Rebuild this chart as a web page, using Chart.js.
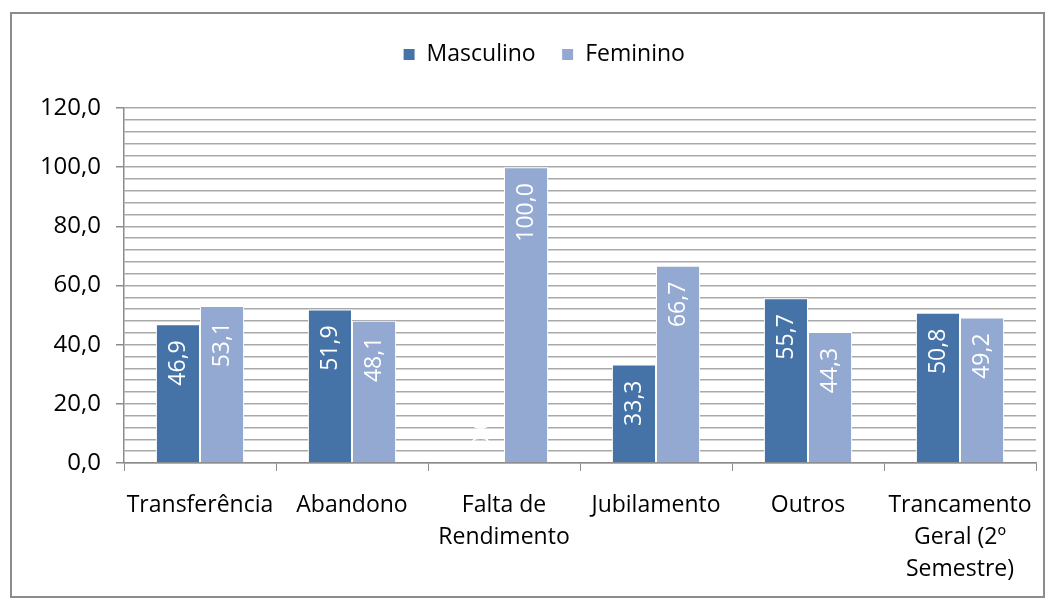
<!DOCTYPE html>
<html>
<head>
<meta charset="utf-8">
<script src="https://cdn.jsdelivr.net/npm/chart.js@4/dist/chart.umd.min.js"></script>
<style>
    html, body { margin: 0; padding: 0; background: #fff; }
    #frame {
        position: absolute; left: 10px; top: 12px;
        width: 1035px; height: 586px;
        border: 2px solid #8c8c8c;
        box-sizing: border-box;
    }
    #wrap { position: absolute; left: 0; top: 0; width: 1054px; height: 607px; }
</style>
</head>
<body>
<div id="frame"></div>
<div id="wrap"><canvas id="chart" width="1054" height="607"></canvas></div>
<script>
// 카테고리와 값
const categories = [
    'Transferência',
    'Abandono',
    ['Falta de', 'Rendimento'],
    'Jubilamento',
    'Outros',
    ['Trancamento', 'Geral (2º', 'Semestre)']
];
const masculino = [46.9, 51.9, 0.0, 33.3, 55.7, 50.8];
const feminino = [53.1, 48.1, 100.0, 66.7, 44.3, 49.2];
const yTicks = [0, 20, 40, 60, 80, 100, 120];

const FONT = '"Open Sans", "DejaVu Sans", sans-serif';

function fmt(v) {
    return v.toFixed(1).replace('.', ',');
}

// 막대 안쪽 세로 라벨
const barLabels = {
    id: 'barLabels',
    afterDatasetsDraw(chart) {
        const ctx = chart.ctx;
        ctx.save();
        ctx.fillStyle = '#ffffff';
        ctx.font = '23px ' + FONT;
        ctx.textBaseline = 'middle';
        chart.data.datasets.forEach((ds, di) => {
            chart.getDatasetMeta(di).data.forEach((bar, i) => {
                const text = fmt(ds.data[i]);
                const w = ctx.measureText(text).width;
                ctx.save();
                ctx.translate(bar.x, bar.y);
                ctx.rotate(-Math.PI / 2);
                if (bar.base - bar.y > w + 20) {
                    ctx.textAlign = 'right';
                    ctx.fillText(text, -16, 0);
                } else {
                    ctx.textAlign = 'left';
                    ctx.fillText(text, 14, 0);
                }
                ctx.restore();
            });
        });
        ctx.restore();
    }
};

// 범례 아래 여백 + 가로 위치 보정
const legendMargin = {
    id: 'legendMargin',
    beforeInit(chart) {
        const fit = chart.legend.fit;
        chart.legend.fit = function() {
            fit.bind(chart.legend)();
            this.height += 32;
        };
    },
    afterLayout(chart) {
        chart.legend.left += 26;
        chart.legend.right += 26;
    }
};

new Chart(document.getElementById('chart'), {
    type: 'bar',
    data: {
        labels: categories,
        datasets: [{
            label: 'Masculino',
            data: masculino,
            backgroundColor: '#4572A7',
            borderColor: '#ffffff',
            borderWidth: 1,
            categoryPercentage: 0.58,
            barPercentage: 1.0
        }, {
            label: 'Feminino',
            data: feminino,
            backgroundColor: '#94A9D1',
            borderColor: '#ffffff',
            borderWidth: 1,
            categoryPercentage: 0.58,
            barPercentage: 1.0
        }]
    },
    options: {
        responsive: false,
        animation: false,
        layout: {
            padding: { top: 17, right: 18, left: 0, bottom: 0 }
        },
        plugins: {
            legend: {
                display: true,
                position: 'top',
                labels: {
                    boxWidth: 12,
                    boxHeight: 12,
                    padding: 26,
                    color: '#000',
                    font: { family: FONT, size: 23 }
                }
            },
            tooltip: { enabled: false }
        },
        scales: {
            y: {
                min: 0,
                max: 120,
                afterFit(scale) { scale.width = 124; },
                afterBuildTicks(scale) {
                    const ticks = [];
                    for (let v = 0; v <= 120; v += 4) ticks.push({ value: v });
                    scale.ticks = ticks;
                },
                ticks: {
                    autoSkip: false,
                    padding: 15,
                    color: '#000',
                    font: { family: FONT, size: 24 },
                    callback: function(value) {
                        return yTicks.includes(value) ? fmt(value) : '';
                    }
                },
                grid: {
                    color: '#a9a9a9',
                    lineWidth: 1.5,
                    tickLength: 8,
                    tickColor: ctx => (ctx.tick && yTicks.includes(ctx.tick.value)) ? '#8c8c8c' : 'rgba(0,0,0,0)'
                },
                border: { color: '#8c8c8c', width: 1.5 }
            },
            x: {
                afterFit(scale) { scale.height = 144; },
                ticks: {
                    padding: 18,
                    color: '#000',
                    maxRotation: 0,
                    autoSkip: false,
                    font: { family: FONT, size: 23, lineHeight: 1.4 }
                },
                grid: {
                    offset: true,
                    drawOnChartArea: false,
                    tickLength: 8,
                    tickColor: '#8c8c8c'
                },
                border: { color: '#8c8c8c', width: 1.5 }
            }
        }
    },
    plugins: [barLabels, legendMargin]
});
</script>
</body>
</html>
